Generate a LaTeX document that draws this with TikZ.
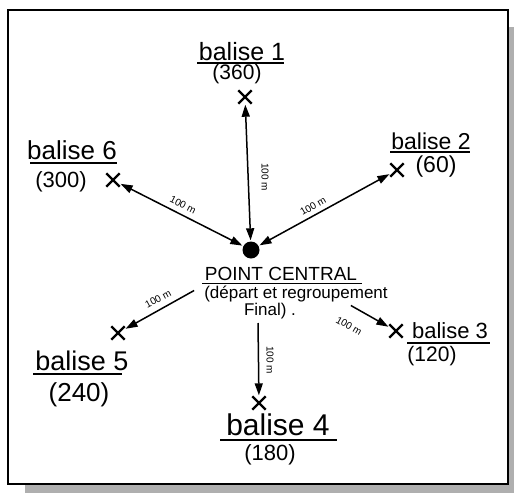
\documentclass[tikz,border=0pt]{standalone}
\usepackage{fontspec}
\setmainfont{Liberation Sans}
\usetikzlibrary{arrows.meta,shapes.misc}
\begin{document}
\begin{tikzpicture}[x=1pt,y=-1pt,
  lbl/.style={inner sep=0pt, font=\fontsize{#1}{#1}\selectfont},
  dist/.style={inner sep=0pt, font=\fontsize{10}{10}\selectfont},
  balx/.style={cross out, draw, line width=2.4pt, minimum size=11pt, inner sep=0pt},
  uline/.style={line width=1.3pt},
  conn/.style={line width=1.5pt, shorten >=1pt, shorten <=1pt},
  tip/.style={Triangle[length=12pt,width=8pt]}
]
\useasboundingbox (0,0) rectangle (514,493);
% frame with shadow
\fill[gray!95!black!60] (25,27) rectangle (514,493);
\filldraw[fill=white, draw=black, line width=2.5pt] (8,10) rectangle (508,484);

% central point
\node[circle, fill=black, minimum size=17pt, inner sep=0pt] (c) at (251,250) {};
\node[lbl=19] (pc) at (281,274) {POINT CENTRAL};
\draw[uline] (202,283.5) -- (362,283.5);
\node[lbl=17] (pc2) at (296,294) {(départ et regroupement};
\node[lbl=17] (pc3) at (270,311) {Final) .};

% beacons
\node[balx] (x1) at (245,97) {};
\node[balx] (x2) at (397,170) {};
\node[balx] (x3) at (396,331) {};
\node[balx] (x4) at (259,403) {};
\node[balx] (x5) at (118,333) {};
\node[balx] (x6) at (113,180) {};

% labels
\node[lbl=25] (b1) at (242,52) {balise 1};
\draw[uline] (197,63) -- (284,63);
\node[lbl=21] (n1) at (237,74) {(360)};

\node[lbl=23] (b2) at (431,141) {balise 2};
\draw[uline] (390,152) -- (470,152);
\node[lbl=23] (n2) at (436,167) {(60)};

\node[lbl=22] (b3) at (450,331) {balise 3};
\draw[uline] (407,343) -- (490,343);
\node[lbl=21] (n3) at (432,356) {(120)};

\node[lbl=30] (b4) at (278,425) {balise 4};
\draw[uline] (220,440) -- (337,440);
\node[lbl=22] (n4) at (270,455) {(180)};

\node[lbl=27] (b5) at (82,361) {balise 5};
\draw[uline] (33,374) -- (122,374);
\node[lbl=26] (n5) at (79,395) {(240)};

\node[lbl=26] (b6) at (72,150) {balise 6};
\draw[uline] (30,163) -- (117,163);
\node[lbl=22] (n6) at (61,182) {(300)};

% connectors
\coordinate (s3) at (350,305);
\coordinate (s4) at (258,322);
\coordinate (s5) at (195,290);
\draw[conn, {Triangle[length=12pt,width=8pt]}-{Triangle[length=12pt,width=8pt]}] (x1) -- (c);
\draw[conn, {Triangle[length=12pt,width=8pt]}-{Triangle[length=12pt,width=8pt]}] (c) -- (x2);
\draw[conn, -{Triangle[length=12pt,width=8pt]}] (s3) -- (x3);
\draw[conn, -{Triangle[length=12pt,width=8pt]}] (s4) -- (x4);
\draw[conn, -{Triangle[length=12pt,width=8pt]}] (s5) -- (x5);
\draw[conn, {Triangle[length=12pt,width=8pt]}-{Triangle[length=12pt,width=8pt]}] (x6) -- (c);

% distance labels
\node[dist, rotate=-90] (l1) at (265,177) {100 m};
\node[dist, rotate=30] (l2) at (313,206) {100 m};
\node[dist, rotate=-30] (l3) at (349,326) {100 m};
\node[dist, rotate=-90] (l4) at (270,360) {100 m};
\node[dist, rotate=28] (l5) at (158,299) {100 m};
\node[dist, rotate=-27] (l6) at (183,205) {100 m};
\end{tikzpicture}
\end{document}
